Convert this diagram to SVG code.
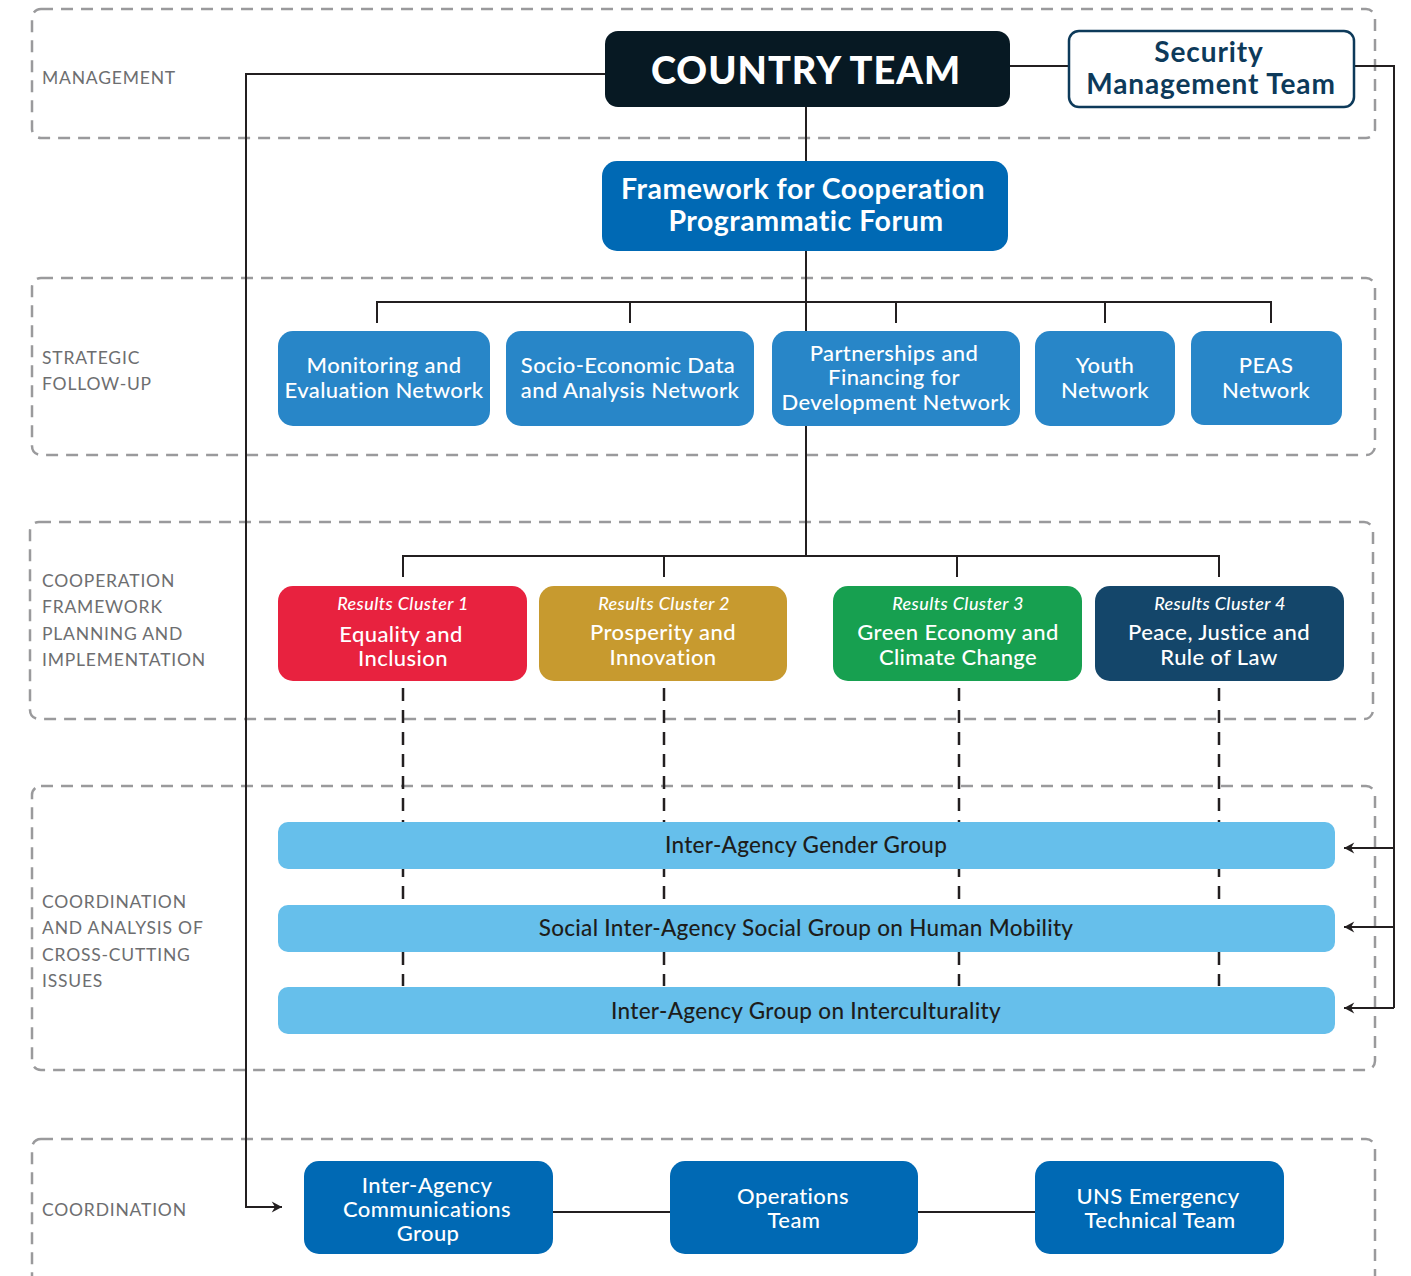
<svg xmlns="http://www.w3.org/2000/svg" width="1411" height="1276" viewBox="0 0 1411 1276">
<style>
.band{fill:none;stroke:#9a9a9c;stroke-width:2.5;stroke-dasharray:12 8}
.lbl{font-family:Lato,"Liberation Sans",sans-serif;font-size:17.5px;fill:#6d6e70;letter-spacing:0.8px}
.ln{fill:none;stroke:#231f20;stroke-width:2}
.dl{fill:none;stroke:#231f20;stroke-width:2.5;stroke-dasharray:13 9}
.w{font-family:Lato,"Liberation Sans",sans-serif;fill:#fff;text-anchor:middle;font-size:22px;font-weight:500;letter-spacing:0.4px}
.wb{font-family:Lato,"Liberation Sans",sans-serif;fill:#fff;text-anchor:middle;font-size:28.5px;font-weight:700;letter-spacing:0.5px}
.it{font-family:Lato,"Liberation Sans",sans-serif;fill:#fff;text-anchor:middle;font-size:18px;font-style:italic;font-weight:500;letter-spacing:0.4px}
.bar{fill:#66bfeb}
.bt{font-family:Lato,"Liberation Sans",sans-serif;fill:#1d1d1b;text-anchor:middle;font-size:22.5px;font-weight:500;letter-spacing:0.3px}
.sn{fill:#2886c8}
.nb{fill:#0069b4}
</style>
<defs>
<marker id="ah" viewBox="0 0 12 12" refX="11" refY="6" markerWidth="13" markerHeight="13" markerUnits="userSpaceOnUse" orient="auto">
<path d="M1.5,1 L11,6 L1.5,11 L4.5,6 Z" fill="#231f20"/>
</marker>
</defs>
<g id="bands">
<rect class="band" x="32" y="9" width="1343" height="129" rx="9"/>
<rect class="band" x="32" y="278" width="1343" height="177" rx="9"/>
<rect class="band" x="30" y="522" width="1343" height="197" rx="9"/>
<rect class="band" x="32" y="786" width="1343" height="284" rx="9"/>
<rect class="band" x="32" y="1139" width="1343" height="160" rx="9"/>
</g>
<g id="labels">
<text class="lbl" x="42" y="84">MANAGEMENT</text>
<text class="lbl" x="42" y="364">STRATEGIC</text>
<text class="lbl" x="42" y="390">FOLLOW-UP</text>
<text class="lbl" x="42" y="587">COOPERATION</text>
<text class="lbl" x="42" y="613">FRAMEWORK</text>
<text class="lbl" x="42" y="640">PLANNING AND</text>
<text class="lbl" x="42" y="666">IMPLEMENTATION</text>
<text class="lbl" x="42" y="908">COORDINATION</text>
<text class="lbl" x="42" y="934">AND ANALYSIS OF</text>
<text class="lbl" x="42" y="961">CROSS-CUTTING</text>
<text class="lbl" x="42" y="987">ISSUES</text>
<text class="lbl" x="42" y="1216">COORDINATION</text>
</g>
<g id="connectors">
<path class="ln" d="M605,74 H246 V1207 H282" marker-end="url(#ah)"/>
<path class="ln" d="M1010,66 H1069"/>
<path class="ln" d="M1354,66 H1394 V1008"/>
<path class="ln" d="M1394,848 H1344" marker-end="url(#ah)"/>
<path class="ln" d="M1394,927 H1344" marker-end="url(#ah)"/>
<path class="ln" d="M1394,1008 H1344" marker-end="url(#ah)"/>
<path class="ln" d="M806,107 V556"/>
<path class="ln" d="M377,323 V302 H1271 V323"/>
<path class="ln" d="M630,302 V323 M896,302 V323 M1105,302 V323"/>
<path class="ln" d="M403,577 V556 H1219 V577"/>
<path class="ln" d="M664,556 V577 M957,556 V577"/>
<path class="dl" d="M403,688 V986 M664,688 V986 M959,688 V986 M1219,688 V986"/>
<path class="ln" d="M553,1212 H670 M918,1212 H1035"/>
</g>
<g id="country-team">
<rect x="605" y="31" width="405" height="76" rx="13" fill="#071923"/>
<text x="806" y="84" font-family="Lato,'Liberation Sans',sans-serif" font-weight="900" font-size="38" fill="#fff" text-anchor="middle" letter-spacing="1">COUNTRY TEAM</text>
</g>
<g id="security-management-team">
<rect x="1069" y="31" width="285" height="76" rx="10" fill="#fff" stroke="#0d3a5a" stroke-width="2.5"/>
<text x="1209" y="62" font-family="Lato,'Liberation Sans',sans-serif" font-weight="700" font-size="28" fill="#0d3a5a" text-anchor="middle" letter-spacing="0.9">Security</text>
<text x="1211" y="94" font-family="Lato,'Liberation Sans',sans-serif" font-weight="700" font-size="28" fill="#0d3a5a" text-anchor="middle" letter-spacing="0.9">Management Team</text>
</g>
<g id="framework-forum">
<rect class="nb" x="602" y="161" width="406" height="90" rx="15"/>
<text class="wb" x="803" y="199">Framework for Cooperation</text>
<text class="wb" x="806" y="231">Programmatic Forum</text>
</g>
<g id="me-network">
<rect class="sn" x="278" y="331" width="212" height="95" rx="15"/>
<text class="w" x="384" y="373">Monitoring and</text>
<text class="w" x="384" y="398">Evaluation Network</text>
</g>
<g id="socio-economic-network">
<rect class="sn" x="506" y="331" width="248" height="95" rx="15"/>
<text class="w" x="628" y="373">Socio-Economic Data</text>
<text class="w" x="630" y="398">and Analysis Network</text>
</g>
<g id="partnerships-network">
<rect class="sn" x="772" y="331" width="248" height="95" rx="15"/>
<text class="w" x="894" y="361">Partnerships and</text>
<text class="w" x="894" y="385">Financing for</text>
<text class="w" x="896" y="410">Development Network</text>
</g>
<g id="youth-network">
<rect class="sn" x="1035" y="331" width="140" height="95" rx="15"/>
<text class="w" x="1105" y="373">Youth</text>
<text class="w" x="1105" y="398">Network</text>
</g>
<g id="peas-network">
<rect class="sn" x="1191" y="331" width="151" height="94" rx="13"/>
<text class="w" x="1266" y="373">PEAS</text>
<text class="w" x="1266" y="398">Network</text>
</g>
<g id="cluster-1">
<rect x="278" y="586" width="249" height="95" rx="15" fill="#e8223f"/>
<text class="it" x="403" y="610">Results Cluster 1</text>
<text class="w" x="401" y="642">Equality and</text>
<text class="w" x="403" y="666">Inclusion</text>
</g>
<g id="cluster-2">
<rect x="539" y="586" width="248" height="95" rx="15" fill="#c79a2f"/>
<text class="it" x="664" y="610">Results Cluster 2</text>
<text class="w" x="663" y="640">Prosperity and</text>
<text class="w" x="663" y="665">Innovation</text>
</g>
<g id="cluster-3">
<rect x="833" y="586" width="249" height="95" rx="15" fill="#17a050"/>
<text class="it" x="958" y="610">Results Cluster 3</text>
<text class="w" x="958" y="640">Green Economy and</text>
<text class="w" x="958" y="665">Climate Change</text>
</g>
<g id="cluster-4">
<rect x="1095" y="586" width="249" height="95" rx="15" fill="#14466a"/>
<text class="it" x="1220" y="610">Results Cluster 4</text>
<text class="w" x="1219" y="640">Peace, Justice and</text>
<text class="w" x="1219" y="665">Rule of Law</text>
</g>
<g id="gender-group">
<rect class="bar" x="278" y="822" width="1057" height="47" rx="10"/>
<text class="bt" x="806" y="853">Inter-Agency Gender Group</text>
</g>
<g id="mobility-group">
<rect class="bar" x="278" y="905" width="1057" height="47" rx="10"/>
<text class="bt" x="806" y="936">Social Inter-Agency Social Group on Human Mobility</text>
</g>
<g id="interculturality-group">
<rect class="bar" x="278" y="987" width="1057" height="47" rx="10"/>
<text class="bt" x="806" y="1019">Inter-Agency Group on Interculturality</text>
</g>
<g id="communications-group">
<rect class="nb" x="304" y="1161" width="249" height="93" rx="15"/>
<text class="w" x="427" y="1193">Inter-Agency</text>
<text class="w" x="427" y="1217">Communications</text>
<text class="w" x="428" y="1241">Group</text>
</g>
<g id="operations-team">
<rect class="nb" x="670" y="1161" width="248" height="93" rx="15"/>
<text class="w" x="793" y="1204">Operations</text>
<text class="w" x="794" y="1228">Team</text>
</g>
<g id="emergency-team">
<rect class="nb" x="1035" y="1161" width="249" height="93" rx="15"/>
<text class="w" x="1158" y="1204">UNS Emergency</text>
<text class="w" x="1160" y="1228">Technical Team</text>
</g>
</svg>
